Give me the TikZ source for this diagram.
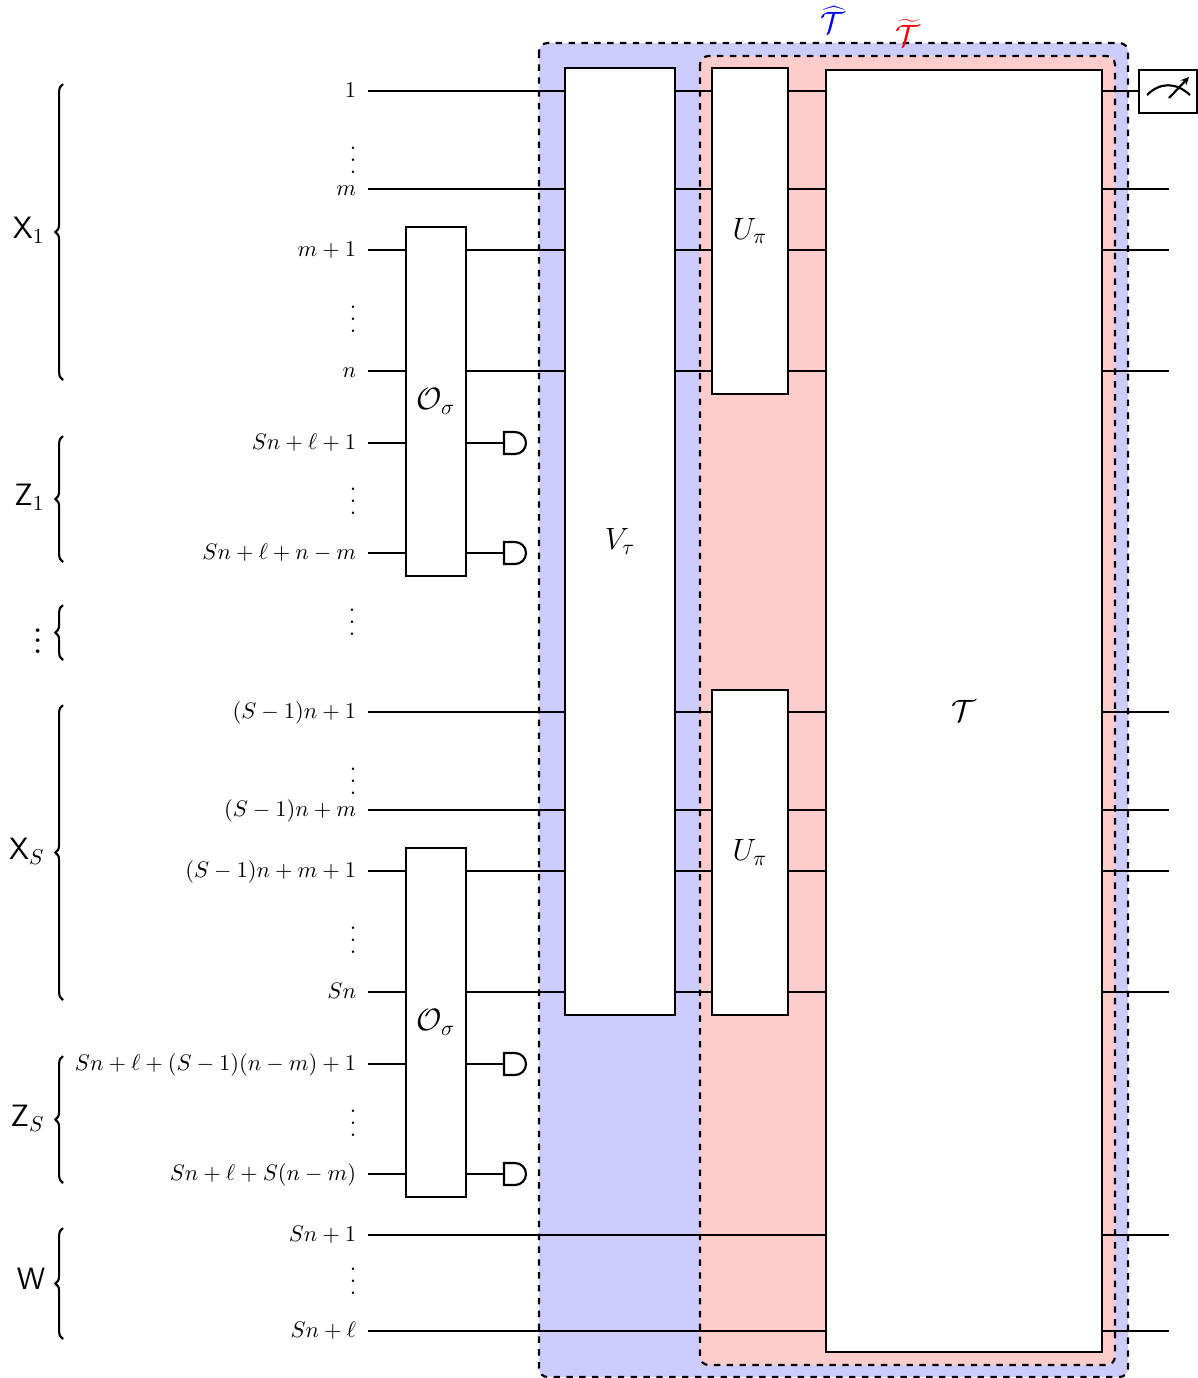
\documentclass[tikz,border=0pt]{standalone}
\usepackage{graphicx}
\usetikzlibrary{decorations.pathreplacing,arrows.meta}
\newcommand{\dotstack}[2]{\vbox{\fontsize{#1}{#1}\selectfont\baselineskip#2\lineskiplimit0pt\lineskip0pt\hbox{.}\hbox{.}\hbox{.}}}
\tikzset{
  x=0.467pt,y=-0.467pt,
  gate/.style={draw,line width=1pt,fill=white,inner sep=0pt,font=\Large},
  wire/.style={line width=1pt},
  lab/.style={anchor=mid east,inner sep=0pt},
  reg/.style={anchor=mid east,inner sep=0pt,font=\Large},
  dots/.style={inner sep=0pt},
  bracecurve/.style={line width=1pt,decorate,decoration={brace,amplitude=3.6pt}},
  outerbox/.style={dashed,line width=1pt,rounded corners=4pt},
}
\newcommand{\gatebox}[6]{\node[gate,minimum width=#4*0.467pt,minimum height=#5*0.467pt] (#1) at (#2,#3) {#6};}
\newcommand{\wirelab}[3]{\coordinate (s#1) at (368,#2); \node[lab] (l#1) at (356.5,#2+2) {\scalebox{1.05}{$#3$}};}
\begin{document}
\begin{tikzpicture}
\useasboundingbox (0,0) rectangle (1198,1378);
% shaded regions
\draw[outerbox,fill=blue!20] (539,43) rectangle (1128,1377);
\draw[outerbox,fill=red!20] (700,56) rectangle (1115,1365);
% wire labels and starts
\wirelab{a}{91}{1}
\wirelab{b}{189}{m}
\wirelab{c}{250}{m+1}
\wirelab{d}{371}{n}
\wirelab{e}{443}{Sn+\ell+1}
\wirelab{f}{553}{Sn+\ell+n-m}
\wirelab{g}{712}{(S-1)n+1}
\wirelab{h}{810}{(S-1)n+m}
\wirelab{i}{871}{(S-1)n+m+1}
\wirelab{j}{992}{Sn}
\wirelab{k}{1064}{Sn+\ell+(S-1)(n-m)+1}
\wirelab{l}{1174}{Sn+\ell+S(n-m)}
\wirelab{m}{1235}{Sn+1}
\wirelab{n}{1331}{Sn+\ell}
% gates
\gatebox{o1}{436}{401.5}{60}{349}{$\mathcal{O}_\sigma$}
\gatebox{o2}{436}{1022.5}{60}{349}{$\mathcal{O}_\sigma$}
\gatebox{v}{620}{541.5}{110}{947}{$V_\tau$}
\gatebox{u1}{750}{231}{76}{326}{$U_\pi$}
\gatebox{u2}{750}{852.5}{76}{325}{$U_\pi$}
\gatebox{t}{964}{711}{276}{1282}{$\mathcal{T}$}
% plain wires through V, U, T
\foreach \w in {a,b,g,h}{
  \draw[wire] (s\w) -- (s\w -| v.west);
}
\foreach \w in {c,d,i,j,e,f,k,l}{
  \draw[wire] (s\w) -- (s\w -| o1.west);
}
\foreach \w in {c,d,i,j}{
  \draw[wire] (s\w -| o1.east) -- (s\w -| v.west);
}
\foreach \w in {a,b,c,d}{
  \draw[wire] (s\w -| v.east) -- (s\w -| u1.west);
  \draw[wire] (s\w -| u1.east) -- (s\w -| t.west);
}
\foreach \w in {g,h,i,j}{
  \draw[wire] (s\w -| v.east) -- (s\w -| u2.west);
  \draw[wire] (s\w -| u2.east) -- (s\w -| t.west);
}
\foreach \w in {m,n}{
  \draw[wire] (s\w) -- (s\w -| t.west);
}
\coordinate (r) at (1169,0);
\foreach \w in {b,c,d,g,h,i,j,m,n}{
  \draw[wire] (s\w -| t.east) -- (s\w -| r);
}
% meter
\node[draw,line width=1pt,fill=white,minimum width=58*0.467pt,minimum height=43*0.467pt,inner sep=0pt] (meter) at (1168,91.5) {};
\draw[wire] (sa -| t.east) -- (sa -| meter.west);
\draw[wire] (1147,95) .. controls (1160,82) and (1176,82) .. (1190,95);
\draw[wire,-{Stealth[length=3.8pt,width=3.6pt]}] (1169,98) -- (1189,77);
% discards
\coordinate (md) at (504,0);
\foreach \w in {e,f,k,l}{
  \draw[wire] (s\w -| o1.east) -- (s\w -| md);
  \draw[wire,fill=white] (s\w -| md) ++(0,-11) -- ++(11,0) arc[start angle=90,end angle=-90,radius=5.14pt] -- ++(-11,0) -- cycle;
}
% vertical dots
\node[dots] (d1) at (353,160) {\dotstack{12pt}{5.6pt}};
\node[dots] (d2) at (353,319) {\dotstack{12pt}{5.6pt}};
\node[dots] (d3) at (353,501) {\dotstack{12pt}{5.6pt}};
\node[dots] (d4) at (352,622) {\dotstack{12pt}{5.6pt}};
\node[dots] (d5) at (353,781) {\dotstack{12pt}{5.6pt}};
\node[dots] (d6) at (353,940) {\dotstack{12pt}{5.6pt}};
\node[dots] (d7) at (353,1123) {\dotstack{12pt}{5.6pt}};
\node[dots] (d8) at (353,1281) {\dotstack{12pt}{5.6pt}};
% braces
\foreach \n/\a/\b in {x1/84/380,z1/436/562,dd/605/660,xs/705/1000,zs/1056/1183,w/1228/1339}{
  \coordinate (b\n a) at (63,\a);
  \coordinate (b\n b) at (63,\b);
  \draw[bracecurve] (b\n b) -- (b\n a);
}
\node[reg] (rx1) at (45,234) {$\mathsf{X}_1$};
\node[reg] (rz1) at (45,501) {$\mathsf{Z}_1$};
\node[dots] (rdd) at (38,641) {\dotstack{21pt}{5pt}};
\node[reg] (rxs) at (45,855) {$\mathsf{X}_S$};
\node[reg] (rzs) at (45,1122) {$\mathsf{Z}_S$};
\node[reg] (rw) at (46,1285) {$\mathsf{W}$};
% region labels
\node[blue,font=\Large,inner sep=0pt] (th) at (833,20) {$\widehat{\mathcal{T}}$};
\node[red,font=\Large,inner sep=0pt] (tt) at (908,33) {$\widetilde{\mathcal{T}}$};
\end{tikzpicture}
\end{document}
